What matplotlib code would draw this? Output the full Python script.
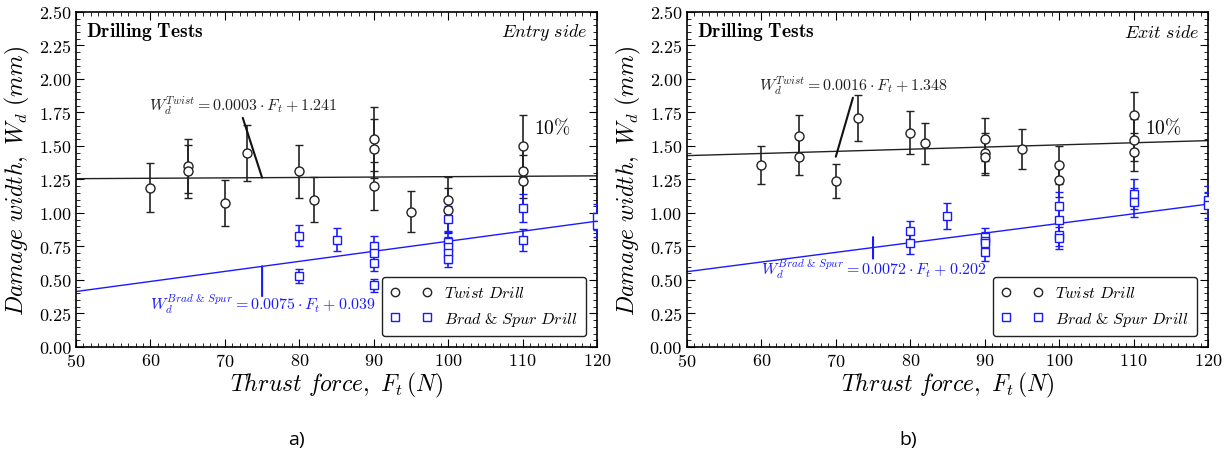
import matplotlib
matplotlib.use('Agg')
import matplotlib.pyplot as plt
from matplotlib.lines import Line2D
from matplotlib.ticker import MultipleLocator
import numpy as np

plt.rcParams['font.family'] = 'serif'
plt.rcParams['font.serif'] = ['cmr10']
plt.rcParams['mathtext.fontset'] = 'cm'
plt.rcParams['axes.formatter.use_mathtext'] = True

# ---- entry side (a) ----
entry_twist_f = [60, 65, 65, 70, 73, 80, 82, 90, 90, 90, 95, 100, 100, 110, 110, 110]
entry_twist_w = [1.19, 1.35, 1.31, 1.075, 1.45, 1.31, 1.10, 1.55, 1.48, 1.20, 1.01, 1.10, 1.02, 1.50, 1.31, 1.24]
entry_twist_e = [0.18, 0.20, 0.20, 0.17, 0.21, 0.20, 0.17, 0.24, 0.22, 0.18, 0.155, 0.17, 0.17, 0.23, 0.20, 0.19]

entry_brad_f = [80, 80, 85, 90, 90, 90, 90, 100, 100, 100, 100, 100, 110, 110, 120, 120]
entry_brad_w = [0.83, 0.53, 0.80, 0.756, 0.70, 0.63, 0.46, 0.955, 0.786, 0.744, 0.70, 0.657, 1.04, 0.80, 0.97, 0.91]
entry_brad_e = [0.08, 0.05, 0.085, 0.075, 0.07, 0.065, 0.05, 0.10, 0.08, 0.075, 0.07, 0.06, 0.105, 0.08, 0.10, 0.09]

# ---- exit side (b) ----
exit_twist_f = [60, 65, 65, 70, 73, 80, 82, 90, 90, 90, 95, 100, 100, 110, 110, 110]
exit_twist_w = [1.36, 1.577, 1.42, 1.24, 1.71, 1.60, 1.52, 1.55, 1.448, 1.42, 1.478, 1.36, 1.246, 1.73, 1.545, 1.455]
exit_twist_e = [0.14, 0.155, 0.14, 0.125, 0.17, 0.16, 0.155, 0.16, 0.15, 0.14, 0.15, 0.14, 0.13, 0.175, 0.16, 0.145]

exit_brad_f = [80, 80, 85, 90, 90, 90, 90, 100, 100, 100, 100, 110, 110, 120, 120]
exit_brad_w = [0.863, 0.774, 0.978, 0.82, 0.79, 0.776, 0.71, 1.054, 0.948, 0.838, 0.813, 1.14, 1.08, 1.10, 1.06]
exit_brad_e = [0.075, 0.08, 0.10, 0.07, 0.07, 0.07, 0.07, 0.105, 0.10, 0.085, 0.08, 0.11, 0.11, 0.10, 0.10]

# linear fits: (slope, intercept)
entry_twist_fit = (0.0003, 1.241)
entry_brad_fit = (0.0075, 0.039)
exit_twist_fit = (0.0016, 1.348)
exit_brad_fit = (0.0072, 0.202)

BLUE = '#1a1aff'


def draw_panel(ax, tf, tw, te, bf, bw, be, tfit, bfit, side,
               t_text_xy, t_line, b_text_xy, b_line, tag):
    fx = np.array([50, 120])
    ax.plot(fx, tfit[0] * fx + tfit[1], color='#222222', lw=1.0, zorder=2)
    ax.plot(fx, bfit[0] * fx + bfit[1], color=BLUE, lw=1.0, zorder=2)

    ax.errorbar(tf, tw, yerr=te, fmt='o', color='#222222', mfc='white', mec='#222222',
                ms=6.5, mew=1.0, elinewidth=1.2, capsize=3, capthick=1.0, zorder=3)
    ax.errorbar(bf, bw, yerr=be, fmt='s', color=BLUE, mfc='white', mec=BLUE,
                ms=6, mew=1.0, elinewidth=1.2, capsize=3, capthick=1.0, zorder=3)

    ax.set_xlim(50, 120)
    ax.set_ylim(0, 2.5)
    ax.xaxis.set_major_locator(MultipleLocator(10))
    ax.xaxis.set_minor_locator(MultipleLocator(1))
    ax.yaxis.set_major_locator(MultipleLocator(0.25))
    ax.yaxis.set_minor_locator(MultipleLocator(0.05))
    ax.yaxis.set_major_formatter(matplotlib.ticker.FormatStrFormatter('%.2f'))
    ax.tick_params(which='both', direction='in', top=True, right=True, labelsize=13)
    ax.tick_params(which='major', length=6)
    ax.tick_params(which='minor', length=3)
    for s in ax.spines.values():
        s.set_linewidth(1.2)

    ax.set_xlabel(r'$Thrust\ force,\ F_t\,(N)$', fontsize=17, labelpad=1)
    ax.set_ylabel(r'$Damage\ width,\ W_d\ (mm)$', fontsize=17, labelpad=5)

    ax.text(0.02, 0.943, r'$\mathbf{Drilling\ Tests}$', transform=ax.transAxes,
            fontsize=14, ha='left', va='center')
    ax.text(0.983, 0.943, side, transform=ax.transAxes,
            fontsize=13, ha='right', va='center')
    ax.text(114, 1.64, r'$10\%$', fontsize=14, ha='center', va='center')

    ax.text(t_text_xy[0], t_text_xy[1],
            r'$W_d^{Twist} = %.4f\cdot F_t + %.3f$' % tfit,
            fontsize=11.5, ha='center', va='center', color='#222222')
    ax.annotate('', xy=t_line[1], xytext=t_line[0],
                arrowprops=dict(arrowstyle='-', color='#111111', lw=1.5,
                                shrinkA=0, shrinkB=0))
    ax.text(b_text_xy[0], b_text_xy[1],
            r'$W_d^{Brad\ &\ Spur} = %.4f\cdot F_t + %.3f$' % bfit,
            fontsize=11.5, ha='center', va='center', color=BLUE)
    ax.annotate('', xy=b_line[1], xytext=b_line[0],
                arrowprops=dict(arrowstyle='-', color=BLUE, lw=1.5,
                                shrinkA=0, shrinkB=0))

    handles = [
        Line2D([], [], ls='none', marker='o', mfc='white', mec='#222222', ms=6),
        Line2D([], [], ls='none', marker='s', mfc='white', mec=BLUE, ms=6),
    ]
    leg = ax.legend(handles, [r'$Twist\ Drill$', r'$Brad\ &\ Spur\ Drill$'],
                    loc='lower right', numpoints=2, fontsize=11.5, handlelength=2.6,
                    fancybox=True, framealpha=1, edgecolor='#222222',
                    borderaxespad=0.7, labelspacing=0.6, borderpad=0.5)
    leg.get_frame().set_linewidth(1.0)

    ax.text(0.424, -0.275, tag, transform=ax.transAxes, fontsize=14,
            family='Open Sans', ha='center', va='center')


fig = plt.figure(figsize=(12.28, 4.60), dpi=100)
ax1 = fig.add_axes([0.0619, 0.2435, 0.4243, 0.7283])
ax2 = fig.add_axes([0.5594, 0.2435, 0.4243, 0.7283])

draw_panel(ax1, entry_twist_f, entry_twist_w, entry_twist_e,
           entry_brad_f, entry_brad_w, entry_brad_e,
           entry_twist_fit, entry_brad_fit, r'$Entry\ side$',
           (72.4, 1.81), [(72.4, 1.71), (75.0, 1.2635)],
           (75.1, 0.32), [(75.0, 0.38), (75.0, 0.602)], 'a)')

draw_panel(ax2, exit_twist_f, exit_twist_w, exit_twist_e,
           exit_brad_f, exit_brad_w, exit_brad_e,
           exit_twist_fit, exit_brad_fit, r'$Exit\ side$',
           (72.4, 1.96), [(72.3, 1.86), (70.0, 1.42)],
           (75.1, 0.58), [(75.0, 0.66), (75.0, 0.82)], 'b)')

fig.savefig('out.png', dpi=100)
